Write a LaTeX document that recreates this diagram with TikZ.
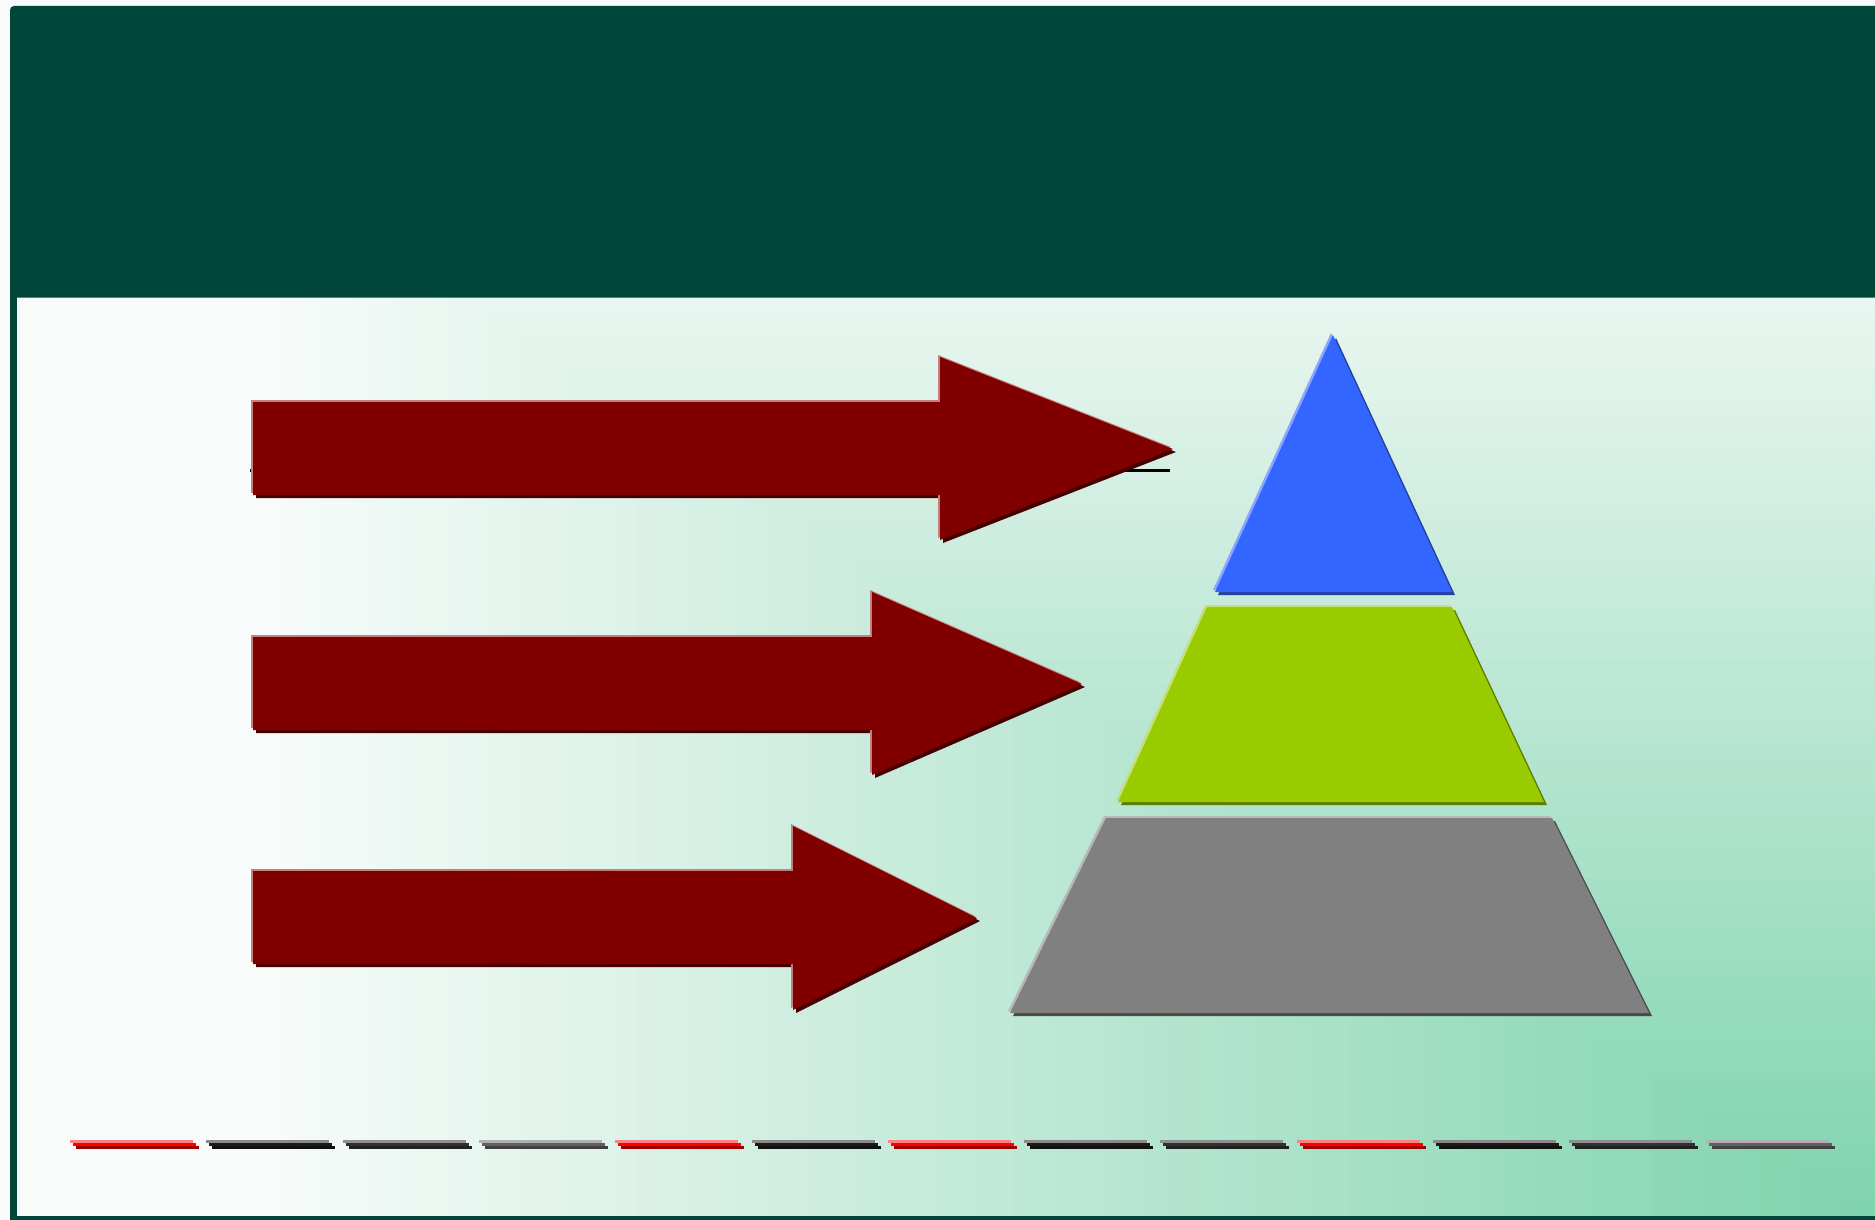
\documentclass[tikz,border=0pt]{standalone}
\usepackage{tikz}
\definecolor{bgW}{RGB}{248,251,250}
\definecolor{bgG}{RGB}{125,211,173}
\definecolor{hdr}{RGB}{1,70,58}
\definecolor{ared}{RGB}{128,0,0}
\definecolor{ashadow}{RGB}{70,0,0}
\definecolor{alight}{RGB}{196,128,128}
\definecolor{pblue}{RGB}{51,102,255}
\definecolor{pblueS}{RGB}{36,64,160}
\definecolor{pblueL}{RGB}{138,165,255}
\definecolor{pgreen}{RGB}{153,204,0}
\definecolor{pgreenS}{RGB}{95,125,0}
\definecolor{pgreenL}{RGB}{196,224,122}
\definecolor{pgray}{RGB}{128,128,128}
\definecolor{pgrayS}{RGB}{74,74,74}
\definecolor{pgrayL}{RGB}{184,184,184}
\definecolor{dRtop}{RGB}{255,128,128}
\definecolor{dRmid}{RGB}{255,0,0}
\definecolor{dRbot}{RGB}{160,0,0}
\definecolor{dKtop}{RGB}{138,138,138}
\definecolor{dKmid}{RGB}{26,26,26}
\definecolor{dKbot}{RGB}{16,16,16}
\definecolor{dDtop}{RGB}{144,144,144}
\definecolor{dDmid}{RGB}{48,48,48}
\definecolor{dDbot}{RGB}{32,32,32}
\definecolor{dGtop}{RGB}{176,176,176}
\definecolor{dGmid}{RGB}{96,96,96}
\definecolor{dGbot}{RGB}{64,64,64}
\newcommand{\layered}[4]{%
  \fill[#1,shift={(3,3)}] #4;
  \fill[#2,shift={(-2,-2)}] #4;
  \fill[#3] #4;}
\newcommand{\redarrow}[8]{%
  \layered{ashadow}{alight}{ared}{(#1,#2) -- (#4,#2) -- (#4,#5) -- (#7,#8) -- (#4,#6) -- (#4,#3) -- (#1,#3) -- cycle}}
\tikzset{dashstrip/.style={line width=0pt}}
\begin{document}
\begin{tikzpicture}[x=1pt,y=-1pt]
\useasboundingbox (0,0) rectangle (1875,1220);
% background "from corner" gradient
\foreach \k in {100,99,...,0}{
  \pgfmathsetmacro{\dd}{\k/100}
  \pgfmathtruncatemacro{\pct}{max(0,min(100,100*(1-1.15*\dd)))}
  \fill[bgG!\pct!bgW] ({1875*(1-\dd)},{1220*(1-\dd)}) rectangle (1876,1221);
}
% frame
\fill[hdr,rounded corners=4pt] (10,6) rectangle (1900,297.5);
\fill[hdr] (10,280) rectangle (17.3,1230);
\fill[hdr] (10,1216) rectangle (1900,1230);
% thin black line behind the first arrow
\draw[black,line width=3pt] (250,470) -- (1170,470);
% arrows
\redarrow{253}{402}{495}{940}{357}{540}{1173}{449}
\redarrow{253}{637}{730}{872}{592}{775}{1082}{684}
\redarrow{253}{871}{964}{793}{826}{1010}{977}{918}
% pyramid
\layered{pblueS}{pblueL}{pblue}{(1333,335) -- (1452,592) -- (1215,592) -- cycle}
\layered{pgreenS}{pgreenL}{pgreen}{(1207,607) -- (1452,607) -- (1544,802) -- (1118,802) -- cycle}
\layered{pgrayS}{pgrayL}{pgray}{(1106,818) -- (1552,818) -- (1649,1013) -- (1010,1013) -- cycle}
% dashes
\foreach \c [count=\i from 0] in {R,K,D,G,R,K,R,K,D,R,K,D,G}{
  \pgfmathsetmacro{\xa}{70+136.3*\i}
  \fill[d\c top] (\xa,1140) rectangle ++(123,3);
  \fill[d\c mid] ({\xa+3},1143) rectangle ++(123,3);
  \fill[d\c bot] ({\xa+6},1146) rectangle ++(123,3);
}
\end{tikzpicture}
\end{document}
